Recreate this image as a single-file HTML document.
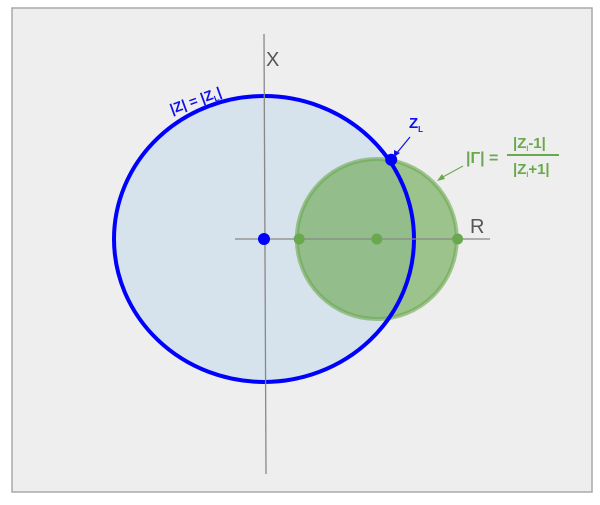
<!DOCTYPE html>
<html><head><meta charset="utf-8"><style>
body{margin:0;background:#fff;width:600px;height:500px;overflow:hidden}
svg text{font-family:"Liberation Sans",sans-serif}
</style></head><body>
<svg id="chart" width="600" height="500">
<rect x="12" y="8" width="580" height="484" fill="#eeeeee" stroke="#a8a8a8" stroke-width="1.5"/>
<g id="marks"></g>
<line x1="264" y1="34" x2="266" y2="474" stroke="#888" stroke-width="1.3"/>
<line x1="235" y1="239" x2="490" y2="239" stroke="#888" stroke-width="1.3"/>
<text x="266" y="66" font-size="20" fill="#555">X</text>
<text x="470" y="233" font-size="20" fill="#555">R</text>
<g id="dots"></g>
<text transform="translate(172,114) rotate(-20)" font-size="14" font-weight="bold" fill="#1010ee">|Z| = |Z<tspan font-size="8" dy="3">L</tspan><tspan dy="-3">|</tspan></text>
<text x="409" y="128" font-size="15" font-weight="bold" fill="#1010ee">Z<tspan font-size="8" dy="4">L</tspan></text>
<line x1="410" y1="137" x2="396" y2="154" stroke="#1010ee" stroke-width="1.2"/>
<polygon points="394,157 394,150 400,153" fill="#1010ee"/>
<g fill="#6aa84f" font-weight="bold">
<text x="466" y="163" font-size="16" font-family="Liberation Serif">|Γ| =</text>
<text x="513" y="148" font-size="15">|Z<tspan font-size="7" dy="3">l</tspan><tspan dy="-3">-1|</tspan></text>
<line x1="507" y1="155" x2="559" y2="155" stroke="#6aa84f" stroke-width="2"/>
<text x="513" y="174" font-size="15">|Z<tspan font-size="7" dy="3">l</tspan><tspan dy="-3">+1|</tspan></text>
</g>
<line x1="463" y1="166" x2="441" y2="178" stroke="#6aa84f" stroke-width="1"/>
<polygon points="437,181 442,174 445,179" fill="#6aa84f"/>
</svg>
<script>
// data in normalized units
const zMagnitude = [1.875];          // |Z| circle radius (units)
const gammaCircle = [1.41, 1.0];     // center R, radius (units)
const greenPoints = [0.44, 1.41, 2.42];
const originPoint = [0];
const zlPoint = [1.59, 0.99];        // R, X
const sx = v => 264 + v*80;
const sy = v => 239 - v*80;
const ryScale = 0.953;
const NS = "http://www.w3.org/2000/svg";
const marks = document.getElementById('marks'), dots = document.getElementById('dots');
function mk(tag, attrs, parent){const e=document.createElementNS(NS,tag);for(const k in attrs)e.setAttribute(k,attrs[k]);parent.appendChild(e);return e;}
let e;
e = mk('ellipse',{cx:sx(0),cy:sy(0),rx:zMagnitude[0]*80,ry:zMagnitude[0]*80*ryScale,fill:'#d6e2ec',stroke:'none'},marks);


e = mk('circle',{cx:sx(gammaCircle[0]),cy:sy(0),r:gammaCircle[1]*80,fill:'rgba(106,168,79,0.62)',stroke:'#6aa84f','stroke-opacity':0.6},marks);
e.setAttribute('stroke-width','4');


e = mk('ellipse',{cx:sx(0),cy:sy(0),rx:zMagnitude[0]*80,ry:zMagnitude[0]*80*ryScale,fill:'none',stroke:'#0000ff'},marks);
e.setAttribute('stroke-width','4');


originPoint.forEach(v=>{const d=mk('circle',{cx:sx(v),cy:sy(0),r:6,fill:'#0000ff'},dots);

});
greenPoints.forEach(v=>{const d=mk('circle',{cx:sx(v),cy:sy(0),r:5.5,fill:'#6aa84f'},dots);

});
e = mk('circle',{cx:sx(zlPoint[0]),cy:sy(zlPoint[1]),r:6,fill:'#0000ff'},dots);


</script>
</body></html>
